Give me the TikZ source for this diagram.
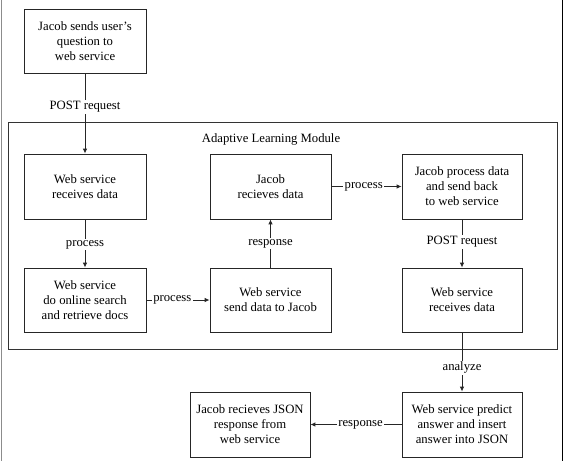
\documentclass[tikz,border=0pt]{standalone}
\usepackage{fontspec}
\setmainfont{Liberation Serif}
\usetikzlibrary{arrows.meta}
\begin{document}
\begin{tikzpicture}[x=1pt,y=-1pt,
  every node/.style={font=\fontsize{12.7}{15}\selectfont},
  box/.style={draw=black!85,line width=0.8pt,minimum width=#1,minimum height=65pt,align=center,inner sep=0pt},
  box/.default=121pt,
  conn/.style={draw=black!85,line width=0.9pt,-{Latex[length=5pt,width=4.5pt]}},
  lab/.style={fill=white,inner sep=1.5pt}]
\useasboundingbox (0,0) rectangle (567,461);
\draw[black!45,line width=1pt] (1,0) -- (1,461);
\draw[black,line width=1pt] (562,0) -- (562,461);
% outer module
\node[draw=black!80,line width=0.8pt,minimum width=549pt,minimum height=227pt,inner sep=0pt] (mod) at (282.5,235.5) {};
\node (modlab) at (271,139) {Adaptive Learning Module};
% boxes
\node[box=122pt,minimum height=64pt] (top) at (85,41) {Jacob sends user's\\question to\\web service};
\node[box=122pt] (a1) at (85,186.5) {Web service\\receives data};
\node[box=122pt,minimum height=64pt] (a2) at (85,300) {Web service\\do online search\\and retrieve docs};
\node[box] (b1) at (270.5,186.5) {Jacob\\recieves data};
\node[box,minimum height=64pt] (b2) at (270.5,300) {Web service\\send data to Jacob};
\node[box=120pt] (c1) at (462,186.5) {Jacob process data\\and send back\\to web service};
\node[box=120pt,minimum height=64pt] (c2) at (462,300) {Web service\\receives data};
\node[box=120pt] (pred) at (462,424.5) {Web service predict\\answer and insert\\answer into JSON};
\node[box=120pt] (json) at (250,424.5) {Jacob recieves JSON\\response from\\web service};
% connectors
\draw[conn] (top) -- (a1) node[lab,pos=0.42] {POST request};
\draw[conn] (a1) -- (a2) node[lab,pos=0.52] {process};
\draw[conn] (a2) -- (b2) node[lab,pos=0.41] {process};
\draw[conn] (b2) -- (b1) node[lab,pos=0.5] {response};
\draw[conn] (b1) -- (c1) node[lab,pos=0.46] {process};
\draw[conn] (c1) -- (c2) node[lab,pos=0.47] {POST request};
\draw[conn] (c2) -- (pred) node[lab,pos=0.6] {analyze};
\draw[conn] (pred) -- (json) node[lab,pos=0.45] {response};
\end{tikzpicture}
\end{document}
